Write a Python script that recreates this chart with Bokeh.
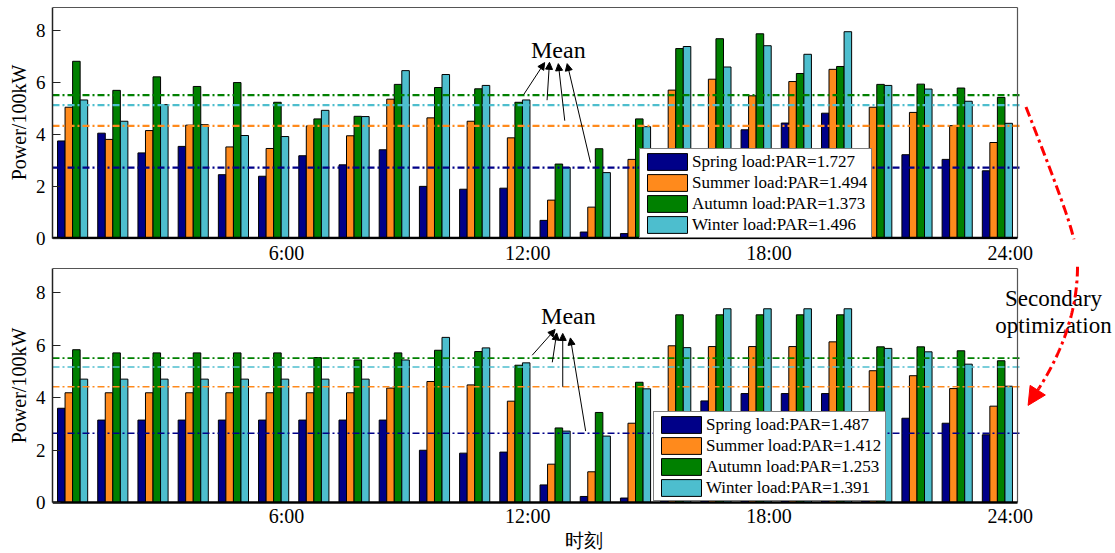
import math
from bokeh.plotting import figure
from bokeh.models import (Range1d, LinearAxis, FixedTicker, Legend, LegendItem,
                          Arrow, NormalHead, ColumnDataSource)
from bokeh.transform import dodge
from bokeh.layouts import column
from bokeh.embed import file_html
from bokeh.resources import INLINE
from bokeh.core.properties import value

# ---------------- data ----------------
hours = list(range(1, 25))
tick_hours = [6, 12, 18, 24]
tick_labels = ["6:00", "12:00", "18:00", "24:00"]
seasons = ["Spring", "Summer", "Autumn", "Winter"]
par_before = [1.727, 1.494, 1.373, 1.496]
par_after = [1.487, 1.412, 1.253, 1.391]

spring_before = [3.74, 4.04, 3.28, 3.53, 2.44, 2.38, 3.17, 2.82, 3.40, 1.99, 1.88, 1.92,
                 0.68, 0.23, 0.17, 1.30, 2.90, 4.17, 4.43, 4.81, 3.00, 3.21, 3.03, 2.59]
summer_before = [5.04, 3.80, 4.14, 4.35, 3.51, 3.45, 4.32, 3.94, 5.35, 4.63, 4.50, 3.86,
                 1.46, 1.19, 3.03, 5.70, 6.12, 5.48, 6.03, 6.50, 5.04, 4.84, 4.33, 3.68]
autumn_before = [6.81, 5.69, 6.21, 5.84, 5.99, 5.23, 4.59, 4.69, 5.92, 5.80, 5.75, 5.23,
                 2.85, 3.44, 4.59, 7.30, 7.68, 7.87, 6.34, 6.61, 5.92, 5.93, 5.78, 5.42]
winter_before = [5.32, 4.50, 5.14, 4.37, 3.95, 3.91, 4.92, 4.68, 6.45, 6.30, 5.88, 5.32,
                 2.72, 2.52, 4.29, 7.38, 6.59, 7.41, 7.08, 7.95, 5.88, 5.74, 5.27, 4.42]

spring_after = [3.59, 3.14, 3.14, 3.14, 3.14, 3.14, 3.14, 3.14, 3.14, 1.99, 1.88, 1.92,
                0.67, 0.23, 0.17, 1.30, 3.87, 4.15, 4.15, 4.15, 3.00, 3.21, 3.02, 2.58]
summer_after = [4.18, 4.18, 4.18, 4.18, 4.18, 4.18, 4.18, 4.18, 4.36, 4.61, 4.48, 3.86,
                1.46, 1.17, 3.02, 5.97, 5.94, 5.94, 5.94, 6.12, 5.02, 4.83, 4.34, 3.67]
autumn_after = [5.82, 5.70, 5.70, 5.70, 5.70, 5.70, 5.52, 5.43, 5.70, 5.80, 5.75, 5.23,
                2.84, 3.43, 4.58, 7.15, 7.15, 7.15, 7.15, 7.15, 5.93, 5.93, 5.78, 5.40]
winter_after = [4.70, 4.70, 4.70, 4.70, 4.70, 4.70, 4.70, 4.70, 5.43, 6.29, 5.89, 5.32,
                2.72, 2.53, 4.33, 5.90, 7.38, 7.38, 7.38, 7.38, 5.87, 5.74, 5.27, 4.43]

mean_before = [2.71, 4.32, 5.51, 5.12]
mean_after = [2.64, 4.41, 5.50, 5.16]

# annotation anchors (hour, value)
mean_text_before = (13.08, 7.23)
mean_text_after = (13.33, 7.12)
arrows_before = dict(xs=[12.22, 12.80, 13.24, 13.88], ys=[5.53, 5.31, 4.52, 2.91],
                     xe=[12.74, 12.86, 13.08, 13.30], ye=[6.76, 6.77, 6.72, 6.72])
arrows_after = dict(xs=[12.43, 12.93, 13.19, 13.76], ys=[5.61, 5.34, 4.41, 2.72],
                    xe=[13.00, 13.04, 13.19, 13.38], ye=[6.59, 6.46, 6.44, 6.27])

# ---------------- style ----------------
colors = ["#000088", "#FF8A1C", "#008000", "#4DBECE"]
offsets = [-0.281, -0.094, 0.094, 0.281]
BAR_W = 0.1875
SERIF = "Liberation Serif"
W = 1115
LEFT = 52
PXH = (1017 - 52) / 24.0      # pixels per hour
X_END = 0.5 + (W - LEFT) / PXH
LAB_SHIFT = 0.32


def arc_px(py):
    dy = py - 266.0
    if dy > 0:
        u = 0.0026 * dy * dy
    else:
        u = math.sqrt(13.5 ** 2 + 0.16 * dy * dy) - 13.5
    return 1077.0 - u


def panel(height, top_b, bot_b, zero_local, ppu, box_top, series, means, pars,
          legend_xy, mean_w, mean_text, arrows, xlabel):
    frame_top = top_b
    frame_bot = height - bot_b
    y_start = -(frame_bot - zero_local) / ppu
    y_end = (zero_local - frame_top) / ppu
    p = figure(width=W, height=height, x_range=Range1d(0.5, X_END),
               y_range=Range1d(y_start, y_end), output_backend="svg",
               toolbar_location=None, x_axis_location=None,
               min_border_left=LEFT, min_border_right=0, min_border_top=top_b,
               min_border_bottom=bot_b, outline_line_color=None,
               background_fill_color="white", border_fill_color="white")
    p.grid.visible = False

    # y axis
    ya = p.yaxis[0]
    ya.ticker = FixedTicker(ticks=[0, 2, 4, 6, 8])
    ya.bounds = (0, box_top)
    ya.major_tick_in = 8
    ya.major_tick_out = 0
    ya.minor_tick_in = 0
    ya.minor_tick_out = 0
    ya.axis_line_width = 1.5
    ya.axis_line_color = "#222222"
    ya.major_tick_line_color = "#222222"
    ya.major_label_text_font = SERIF
    ya.major_label_text_font_size = "19px"
    ya.major_label_text_color = "black"
    ya.major_label_standoff = 7
    ya.axis_label = "Power/100kW"
    ya.axis_label_text_font = SERIF
    ya.axis_label_text_font_style = "normal"
    ya.axis_label_text_font_size = "20px"
    ya.axis_label_text_color = "black"
    ya.axis_label_standoff = 3

    # x axis with labels (shifted as in the reference)
    p.extra_x_ranges = {"lab": Range1d(0.5 - LAB_SHIFT, X_END - LAB_SHIFT)}
    xa = LinearAxis(x_range_name="lab", ticker=FixedTicker(ticks=tick_hours),
                    major_label_overrides=dict(zip(tick_hours, tick_labels)),
                    bounds=(0.5 - LAB_SHIFT, 24.5 - LAB_SHIFT),
                    major_tick_in=0, major_tick_out=0, minor_tick_in=0, minor_tick_out=0,
                    axis_line_color=None, major_label_standoff=2,
                    major_label_text_font=SERIF, major_label_text_font_size="20px",
                    major_label_text_color="black")
    if xlabel:
        xa.major_label_standoff = 0
        xa.major_label_text_line_height = 1.0
        xa.axis_label = xlabel
        xa.axis_label_text_font = SERIF
        xa.axis_label_text_font_style = "normal"
        xa.axis_label_text_font_size = "19px"
        xa.axis_label_text_color = "black"
        xa.axis_label_text_line_height = 1.0
        xa.axis_label_standoff = 0
    p.add_layout(xa, "below")

    # bars
    data = {"hour": hours}
    for i, s in enumerate(series):
        data[f"s{i}"] = s
    src = ColumnDataSource(data)
    rends = []
    for i in range(4):
        r = p.vbar(x=dodge("hour", offsets[i], range=p.x_range), top=f"s{i}",
                   width=BAR_W, source=src, fill_color=colors[i],
                   line_color="black", line_width=1)
        rends.append(r)

    # mean lines
    msrc = ColumnDataSource(dict(y=means, color=colors))
    p.segment(x0=0.5, y0="y", x1=24.62, y1="y", line_color="color",
              line_dash="7 3 2 3", line_width=mean_w, source=msrc)

    # box
    p.segment(x0=[0.5, 24.5], y0=[box_top, 0], x1=[24.5, 24.5], y1=[box_top, box_top],
              line_color="#555555", line_width=1.2)
    p.segment(x0=[0.5], y0=[0], x1=[24.5], y1=[0], line_color="black", line_width=2.4)

    # Mean annotation
    p.text(x=[mean_text[0]], y=[mean_text[1]], text=["Mean"], text_align="center",
           text_baseline="middle", text_font=value(SERIF), text_font_size="24px",
           text_color="black")
    for xs, ys, xe, ye in zip(arrows["xs"], arrows["ys"], arrows["xe"], arrows["ye"]):
        p.add_layout(Arrow(end=NormalHead(size=7, fill_color="black", line_color="black",
                                          line_width=1),
                           x_start=xs, y_start=ys, x_end=xe, y_end=ye,
                           line_color="black", line_width=1))

    # legend
    items = [LegendItem(label=f"{seasons[i]} load:PAR={pars[i]:.3f}", renderers=[rends[i]])
             for i in range(4)]
    leg = Legend(items=items, location=legend_xy, glyph_width=50, glyph_height=21,
                 label_height=20, label_width=177, spacing=0, padding=2, margin=0,
                 label_standoff=0, label_text_font=SERIF, label_text_font_size="17px",
                 label_text_color="black", border_line_color="black", border_line_width=1,
                 background_fill_color="white", background_fill_alpha=1.0)
    p.add_layout(leg)
    return p


# top panel
H1, TB1, BB1 = 266, 5, 26
Z1, PPU1 = 238.5, 26.06
box1 = (Z1 - 7) / PPU1
p1 = panel(H1, TB1, BB1, Z1, PPU1, box1,
           [spring_before, summer_before, autumn_before, winter_before],
           mean_before, par_before, (587, 1), 2.2,
           mean_text_before, arrows_before, None)

# bottom panel
H2, TB2, BB2 = 553 - H1, 0, 49
Z2, PPU2 = 502.0, 26.25
box2 = (Z2 - 268) / PPU2
p2 = panel(H2, TB2, BB2, Z2 - H1, PPU2, box2,
           [spring_after, summer_after, autumn_after, winter_after],
           mean_after, par_after, (601, 3), 1.6,
           mean_text_after, arrows_after, "时刻")

# secondary-optimization text and arc (spans both panels)
def to_x(px):
    return 0.5 + (px - LEFT) / PXH

p2.text(x=[to_x(1053), to_x(1053)], y=[(Z2 - 298) / PPU2, (Z2 - 325) / PPU2],
        text=["Secondary", "optimization"], text_align="center", text_baseline="middle",
        text_font=value(SERIF), text_font_size="23px", text_color="black")

ys_top = list(range(107, 241))
p1.line(x=[to_x(arc_px(py)) for py in ys_top], y=[(Z1 - py) / PPU1 for py in ys_top],
        line_color="red", line_width=3, line_dash="10 4 3 4")
ys_bot = list(range(H1, 389))
p2.line(x=[to_x(arc_px(py)) for py in ys_bot], y=[(Z2 - py) / PPU2 for py in ys_bot],
        line_color="red", line_width=3, line_dash="10 4 3 4")
py_end = 388
dy = py_end - 266.0
slope = -2 * 0.0026 * dy
nrm = math.hypot(slope, 1.0)
tip_px = arc_px(py_end) + 20 * slope / nrm
tip_py = py_end + 20 / nrm
p2.add_layout(Arrow(end=NormalHead(size=18, fill_color="red", line_color="red", line_width=1),
                    x_start=to_x(arc_px(py_end)), y_start=(Z2 - py_end) / PPU2,
                    x_end=to_x(tip_px), y_end=(Z2 - tip_py) / PPU2,
                    line_color="red", line_width=3))

layout = column(p1, p2, spacing=0)
open("out.html", "w").write(file_html(layout, INLINE))
